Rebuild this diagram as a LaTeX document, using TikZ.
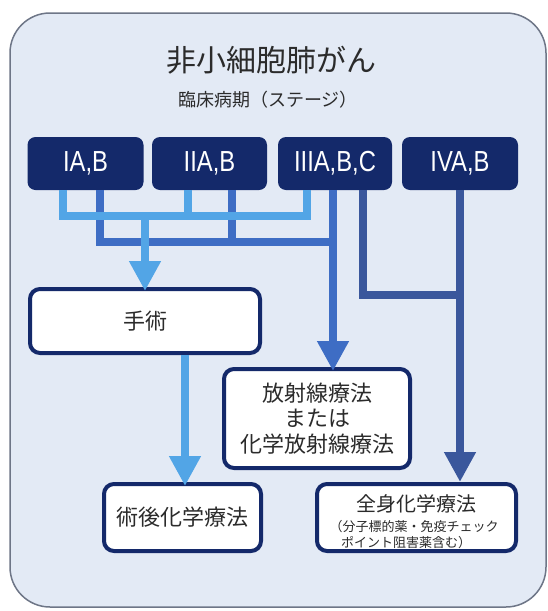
\documentclass[tikz,border=0pt]{standalone}
\usepackage{fontspec}
\setmainfont{Noto Sans CJK JP}
\newfontfamily\stagefont[FakeStretch=0.82]{Liberation Sans}
\usetikzlibrary{arrows.meta}
\definecolor{navy}{HTML}{14296A}
\definecolor{lightblue}{HTML}{52A5E6}
\definecolor{midblue}{HTML}{3E6DC4}
\definecolor{darkblue}{HTML}{3A579C}
\definecolor{panel}{HTML}{E3EAF5}
\definecolor{panelborder}{HTML}{6E7687}
\definecolor{txt}{HTML}{2B2B2B}
\tikzset{
  stagebox/.style={fill=navy, rounded corners=8pt, minimum height=53pt, inner sep=0pt, text=white, font=\stagefont\fontsize{29}{29}\selectfont},
  whitebox/.style={draw=navy, line width=4pt, fill=white, rounded corners=10pt, inner sep=0pt, text=txt},
  conn/.style={line width=8pt, line cap=butt, line join=miter},
  tip/.style={-{Triangle[width=30pt,length=30pt]}},
}
\begin{document}
\begin{tikzpicture}[x=1pt,y=-1pt]
\useasboundingbox (0,0) rectangle (547,611);
\fill[white] (0,0) rectangle (547,611);
\draw[panelborder, fill=panel, line width=1.5pt, rounded corners=40pt] (10,13) rectangle (546,607);

\node[text=txt, font=\fontsize{30}{30}\selectfont] (title) at (271,60) {非小細胞肺がん};
\node[text=txt, font=\fontsize{18}{18}\selectfont] (sub) at (268,100) {臨床病期（ステージ）};

\node[stagebox, minimum width=116pt] (s1) at (85.5,163.5) {IA,B};
\node[stagebox, minimum width=115pt] (s2) at (209.5,163.5) {IIA,B};
\node[stagebox, minimum width=114pt] (s3) at (335,163.5) {IIIA,B,C};
\node[stagebox, minimum width=116pt] (s4) at (460,163.5) {IVA,B};

\node[whitebox, minimum width=230pt, minimum height=64pt, font=\fontsize{22}{22}\selectfont] (surg) at (145,321) {手術};
\node[whitebox, minimum width=186pt, minimum height=99pt, align=center, font=\fontsize{22}{25.5}\selectfont] (rad) at (317,418.5) {放射線療法\\または\\化学放射線療法};
\node[whitebox, minimum width=157pt, minimum height=67pt, font=\fontsize{22}{22}\selectfont] (post) at (182.5,517.5) {術後化学療法};
\node[whitebox, minimum width=199pt, minimum height=67pt] (sys) at (416.5,517.5) {};
\node[text=txt, font=\fontsize{20}{20}\selectfont] (sysA) at (416.5,504) {全身化学療法};
\node[text=txt, font=\fontsize{13}{13}\selectfont] (sysB) at (414,527) {（分子標的薬・免疫チェック};
\node[text=txt, font=\fontsize{13}{13}\selectfont] (sysC) at (406,543) {ポイント阻害薬含む）};

% coordinates for connectors
\coordinate (a1) at (63,190);
\coordinate (a2) at (188,190);
\coordinate (a3) at (307,190);
\coordinate (b1) at (100,190);
\coordinate (b2) at (232,190);
\coordinate (b3) at (333,190);
\coordinate (c3) at (363,190);
\coordinate (c4) at (460,190);
\coordinate (lbar) at (307,216);
\coordinate (mbar) at (333,242);
\coordinate (dbar) at (460,295);

% dark blue (IV / III systemic)
\draw[conn, darkblue] (c3) |- (dbar);
\draw[conn, darkblue, tip] (c4) -- (sys.north -| c4);
% mid blue (radiation)
\draw[conn, midblue] (b1) |- (mbar);
\draw[conn, midblue] (b2) -- (b2 |- mbar);
\draw[conn, midblue, tip] (b3) -- ([yshift=-4pt]rad.north -| b3);
% light blue (surgery)
\draw[conn, lightblue] (a1) |- (lbar) -- (a3);
\draw[conn, lightblue] (a2) -- (a2 |- lbar);
\draw[conn, lightblue, tip] (145,212) -- ([yshift=-4pt]surg.north);
\draw[conn, lightblue, tip] (surg.south -| 185,0) -- ([yshift=-4pt]post.north -| 185,0);
\end{tikzpicture}
\end{document}
